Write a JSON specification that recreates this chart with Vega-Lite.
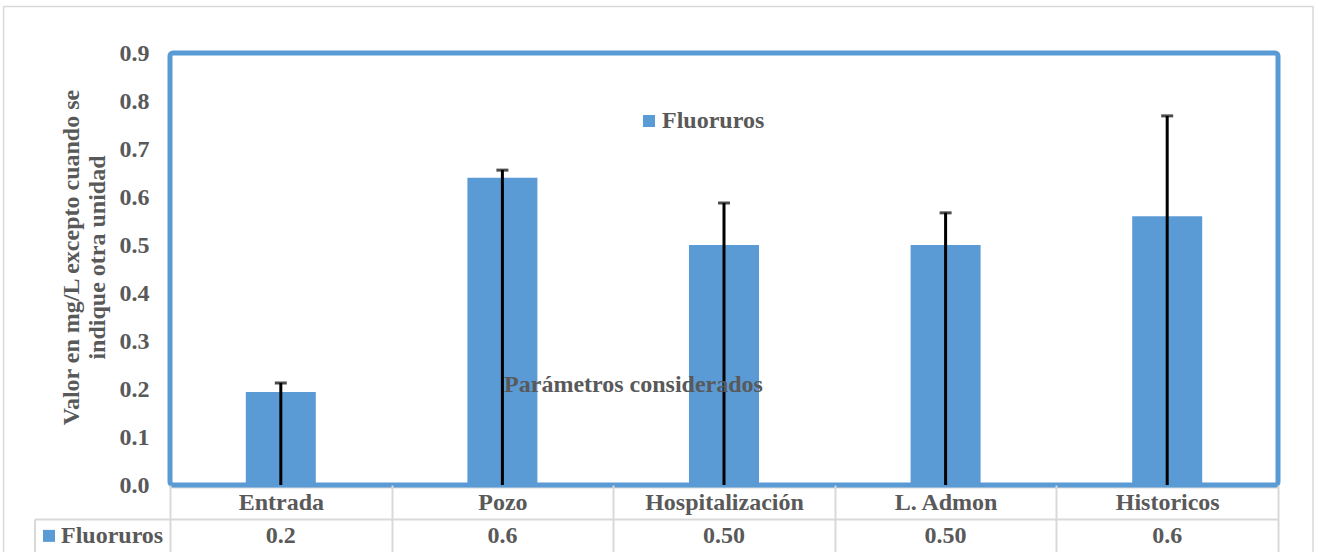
{
  "$schema": "https://vega.github.io/schema/vega-lite/v6.json",
  "width": 1108,
  "height": 432,
  "autosize": "none",
  "padding": {"left": 170, "top": 53, "right": 41, "bottom": 67},
  "background": "white",
  "config": {
    "view": {"stroke": null},
    "font": "Liberation Serif, Times New Roman, serif",
    "axis": {"labelFont": "Liberation Serif, Times New Roman, serif", "titleFont": "Liberation Serif, Times New Roman, serif"},
    "legend": {"labelFont": "Liberation Serif, Times New Roman, serif"},
    "text": {"font": "Liberation Serif, Times New Roman, serif"}
  },
  "data": {
    "values": [
      {"categoria": "Entrada", "valor": 0.194, "error_sup": 0.2125, "etiqueta": "0.2", "serie": "Fluoruros"},
      {"categoria": "Pozo", "valor": 0.640, "error_sup": 0.656, "etiqueta": "0.6", "serie": "Fluoruros"},
      {"categoria": "Hospitalización", "valor": 0.500, "error_sup": 0.5875, "etiqueta": "0.50", "serie": "Fluoruros"},
      {"categoria": "L. Admon", "valor": 0.500, "error_sup": 0.567, "etiqueta": "0.50", "serie": "Fluoruros"},
      {"categoria": "Historicos", "valor": 0.560, "error_sup": 0.769, "etiqueta": "0.6", "serie": "Fluoruros"}
    ]
  },
  "resolve": {"scale": {"x": "independent"}, "axis": {"x": "independent"}},
  "layer": [
    {
      "data": {"values": [{"fila": "Fluoruros"}]},
      "layer": [
        {
          "mark": {"type": "rect", "fillOpacity": 0, "stroke": "#d9d9d9", "strokeWidth": 1.5},
          "encoding": {
            "x": {"datum": -0.751, "type": "quantitative", "scale": {"domain": [0, 5], "nice": false, "zero": false}, "axis": null},
            "x2": {"datum": 5.158},
            "y": {"datum": 0.9969, "type": "quantitative"},
            "y2": {"datum": -0.3}
          }
        },
        {
          "mark": {"type": "rule", "stroke": "#d9d9d9", "strokeWidth": 2},
          "encoding": {
            "x": {"datum": -0.609, "type": "quantitative", "axis": null},
            "x2": {"datum": 5},
            "y": {"datum": -0.0719, "type": "quantitative"}
          }
        },
        {
          "mark": {"type": "rule", "stroke": "#d9d9d9", "strokeWidth": 2},
          "encoding": {
            "x": {"datum": 0, "type": "quantitative", "axis": null},
            "x2": {"datum": 5},
            "y": {"datum": -0.005, "type": "quantitative"}
          }
        },
        {
          "mark": {"type": "rule", "stroke": "#d9d9d9", "strokeWidth": 2},
          "encoding": {
            "x": {"datum": -0.609, "type": "quantitative", "axis": null},
            "y": {"datum": -0.0719, "type": "quantitative"},
            "y2": {"datum": -0.3}
          }
        },
        {
          "mark": {"type": "rect", "fillOpacity": 0, "stroke": "#5b9bd5", "strokeWidth": 5, "cornerRadius": 3},
          "encoding": {
            "x": {"datum": 0, "type": "quantitative", "axis": null},
            "x2": {"datum": 5},
            "y": {"datum": 0, "type": "quantitative"},
            "y2": {"datum": 0.9}
          }
        },
        {
          "mark": {"type": "point", "shape": "square", "size": 144, "filled": true, "color": "#5b9bd5", "opacity": 1},
          "encoding": {
            "x": {"datum": -0.546, "type": "quantitative", "axis": null},
            "y": {"datum": -0.106, "type": "quantitative"}
          }
        },
        {
          "mark": {"type": "text", "align": "left", "baseline": "middle", "fontSize": 24, "fontWeight": "bold", "color": "#595959"},
          "encoding": {
            "x": {"datum": -0.492, "type": "quantitative", "axis": null},
            "y": {"datum": -0.106, "type": "quantitative"},
            "text": {"field": "fila", "type": "nominal"}
          }
        }
      ]
    },
    {
      "layer": [
        {
          "mark": {"type": "bar", "width": 70},
          "encoding": {
            "x": {
              "field": "categoria",
              "type": "nominal",
              "sort": null,
              "scale": {"type": "band", "paddingInner": 0, "paddingOuter": 0},
              "axis": {
                "orient": "bottom",
                "domain": false,
                "ticks": true,
                "tickBand": "extent",
                "tickSize": 67,
                "tickColor": "#d9d9d9",
                "tickWidth": 2,
                "labelAngle": 0,
                "labelFontSize": 24,
                "labelFontWeight": "bold",
                "labelColor": "#595959",
                "labelBaseline": "top",
                "labelPadding": -62,
                "title": "Parámetros considerados",
                "titleFontSize": 24,
                "titleFontWeight": "bold",
                "titleColor": "#595959",
                "titleX": 463,
                "titleY": -101,
                "titleAlign": "center",
                "titleBaseline": "middle",
                "zindex": 1
              }
            },
            "y": {
              "field": "valor",
              "type": "quantitative",
              "scale": {"domain": [0, 0.9], "nice": false, "zero": true},
              "axis": {
                "values": [0, 0.1, 0.2, 0.3, 0.4, 0.5, 0.6, 0.7, 0.8, 0.9],
                "format": ".1f",
                "domain": false,
                "ticks": false,
                "grid": false,
                "labelFontSize": 24,
                "labelFontWeight": "bold",
                "labelColor": "#595959",
                "labelPadding": 21,
                "title": ["Valor en mg/L  excepto cuando se", "indique otra unidad"],
                "titleFontSize": 24,
                "titleFontWeight": "bold",
                "titleColor": "#595959",
                "titlePadding": 10,
                "titleY": 204,
                "titleLineHeight": 26
              }
            },
            "color": {
              "field": "serie",
              "type": "nominal",
              "scale": {"range": ["#5b9bd5"]},
              "legend": {
                "orient": "none",
                "legendX": 467,
                "legendY": 56,
                "title": null,
                "symbolType": "square",
                "symbolSize": 144,
                "symbolStrokeWidth": 0,
                "labelFontSize": 24,
                "labelFontWeight": "bold",
                "labelColor": "#595959",
                "labelOffset": 1
              }
            }
          }
        },
        {
          "mark": {"type": "rule", "color": "black", "strokeWidth": 3},
          "encoding": {
            "x": {"field": "categoria", "type": "nominal", "sort": null},
            "y": {"field": "error_sup", "type": "quantitative"},
            "y2": {"datum": 0}
          }
        },
        {
          "mark": {"type": "tick", "color": "black", "thickness": 3, "size": 12, "orient": "horizontal"},
          "encoding": {
            "x": {"field": "categoria", "type": "nominal", "sort": null},
            "y": {"field": "error_sup", "type": "quantitative"}
          }
        },
        {
          "mark": {"type": "text", "baseline": "middle", "fontSize": 24, "fontWeight": "bold", "color": "#595959"},
          "encoding": {
            "x": {"field": "categoria", "type": "nominal", "sort": null},
            "y": {"datum": -0.106, "type": "quantitative"},
            "text": {"field": "etiqueta", "type": "nominal"}
          }
        }
      ]
    }
  ]
}
